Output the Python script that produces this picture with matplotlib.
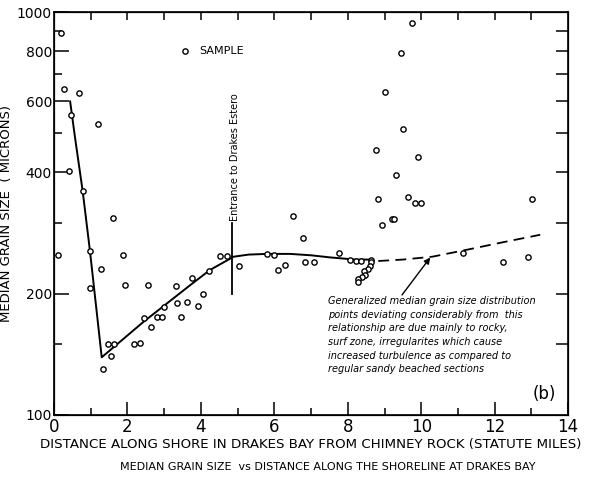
import matplotlib
matplotlib.use("Agg")
import matplotlib.pyplot as plt
from matplotlib.ticker import FixedLocator, NullFormatter, FixedFormatter

# sample points (distance in statute miles, median grain size in microns)
sample_x = [0.19, 0.27, 0.67, 0.46, 1.21, 0.41, 0.12, 0.78, 1.62, 0.98,
            1.87, 1.29, 0.97, 1.93, 2.55, 3.31, 3.77, 2.46, 2.81, 2.95,
            3.00, 3.36, 3.62, 3.93, 3.47, 2.64, 1.46, 1.63, 2.17, 2.34,
            1.56, 1.33, 4.07, 4.23, 4.52, 4.71, 5.04, 5.80, 6.00, 6.11,
            6.29, 6.52, 6.78, 6.83, 7.09, 7.75,
            8.07, 8.22, 8.37, 8.64, 8.64, 8.61, 8.55, 8.43, 8.47, 8.40,
            8.29, 8.27,
            9.75, 9.44, 9.02, 9.51, 8.77, 9.90, 9.32, 8.82, 9.65, 9.84,
            10.00, 9.20, 9.26, 8.93, 11.14, 12.22, 12.90, 13.02]
sample_y = [889, 643, 629, 555, 528, 403, 249, 360, 308, 255,
            249, 230, 207, 210, 210, 209, 219, 174, 175, 175,
            185, 190, 191, 186, 175, 165, 150, 150, 150, 151,
            140, 130, 200, 228, 248, 248, 234, 251, 249, 229,
            235, 312, 275, 239, 239, 252,
            243, 241, 241, 243, 239, 234, 230, 228, 223, 220,
            218, 214,
            941, 793, 632, 512, 455, 437, 394, 344, 347, 335,
            335, 306, 306, 296, 253, 240, 246, 343]

# fitted (generalized) curve, solid part
curve_x = [0.44, 0.57, 0.78, 0.98, 1.30, 2.43, 3.71, 4.25, 4.89, 5.3,
           5.8, 6.43, 7.0, 7.52, 7.75, 8.2, 8.66]
curve_y = [600, 490, 360, 255, 139, 170, 210, 229, 247, 250,
           251, 251, 249, 246, 245, 243, 243]

# dashed extension
dash_x = [8.83, 9.5, 10.3, 11.24, 12.2, 13.24]
dash_y = [241, 243, 247, 257, 268, 280]

x_ticks = [0, 2, 4, 6, 8, 10, 12, 14]
y_ticks = [100, 200, 400, 600, 800, 1000]
y_minor = [150, 300, 500, 700, 900]

note = ("Generalized median grain size distribution\n"
        "points deviating considerably from  this\n"
        "relationship are due mainly to rocky,\n"
        "surf zone, irregularites which cause\n"
        "increased turbulence as compared to\n"
        "regular sandy beached sections")

plt.rcParams["font.family"] = ["DejaVu Sans"]

fig = plt.figure(figsize=(5.9, 4.83), dpi=100)
ax = fig.add_axes([0.0915, 0.141, 0.8715, 0.834])

ax.plot(sample_x, sample_y, "o", ms=3.8, mfc="white", mec="black", mew=1.0,
        zorder=3)
ax.plot(curve_x, curve_y, "-", color="black", lw=1.4)
ax.plot(dash_x, dash_y, color="black", lw=1.3, dashes=(6, 3.5))

ax.set_yscale("log")
ax.set_xlim(0, 14)
ax.set_ylim(100, 1000)

ax.xaxis.set_major_locator(FixedLocator(x_ticks))
ax.xaxis.set_major_formatter(FixedFormatter([str(v) for v in x_ticks]))
ax.xaxis.set_minor_locator(FixedLocator([1, 3, 5, 7, 9, 11, 13]))
ax.xaxis.set_minor_formatter(NullFormatter())
ax.yaxis.set_major_locator(FixedLocator(y_ticks))
ax.yaxis.set_major_formatter(FixedFormatter([str(v) for v in y_ticks]))
ax.yaxis.set_minor_locator(FixedLocator(y_minor))
ax.yaxis.set_minor_formatter(NullFormatter())

ax.tick_params(axis="x", which="major", direction="in", length=9.5,
               width=1.1, labelsize=12, pad=2)
ax.tick_params(axis="x", which="minor", direction="in", length=5, width=1.1)
ax.tick_params(axis="y", which="major", direction="in", length=11,
               width=1.1, labelsize=10, pad=1.5)
ax.tick_params(axis="y", which="minor", direction="in", length=5.5, width=1.1)
for s in ax.spines.values():
    s.set_linewidth(1.2)

# top ticks every mile
axt = ax.twiny()
axt.set_xlim(0, 14)
axt.xaxis.set_major_locator(FixedLocator(list(range(1, 14))))
axt.xaxis.set_major_formatter(NullFormatter())
axt.tick_params(axis="x", direction="in", length=6, width=1.1)

# right ticks
axr = ax.twinx()
axr.set_yscale("log")
axr.set_ylim(100, 1000)
axr.yaxis.set_major_locator(FixedLocator([150, 200, 300, 400, 500, 600, 700, 800, 900]))
axr.yaxis.set_major_formatter(NullFormatter())
axr.yaxis.set_minor_locator(FixedLocator([]))
axr.tick_params(axis="y", direction="in", length=8.5, width=1.1)

ax.set_xlabel("DISTANCE ALONG SHORE IN DRAKES BAY FROM CHIMNEY ROCK (STATUTE MILES)",
              fontsize=9.6, labelpad=2)
ax.set_ylabel("MEDIAN GRAIN SIZE  ( MICRONS)", fontsize=9.5, labelpad=3)

# legend marker
ax.plot([3.56], [800], "o", ms=3.8, mfc="white", mec="black", mew=1.0)
ax.text(3.95, 800, "SAMPLE", fontsize=8, va="center")

# estero entrance
ax.plot([4.85, 4.85], [200, 300], color="black", lw=1.3)
ax.text(4.93, 303, "Entrance to Drakes Estero", rotation=90, fontsize=7,
        ha="center", va="bottom")

ax.annotate("", xy=(10.29, 249), xytext=(9.43, 196),
            arrowprops=dict(arrowstyle="-|>", color="black", lw=1.0,
                            mutation_scale=9))
ax.text(7.45, 197, note, fontsize=7, style="italic", va="top", ha="left",
        linespacing=1.45)
ax.text(13.35, 107, "(b)", fontsize=12, ha="center", va="bottom")

fig.text(0.555, 0.033, "MEDIAN GRAIN SIZE  vs DISTANCE ALONG THE SHORELINE AT DRAKES BAY",
         fontsize=8, ha="center", va="center")

fig.savefig("out.png", dpi=100)
